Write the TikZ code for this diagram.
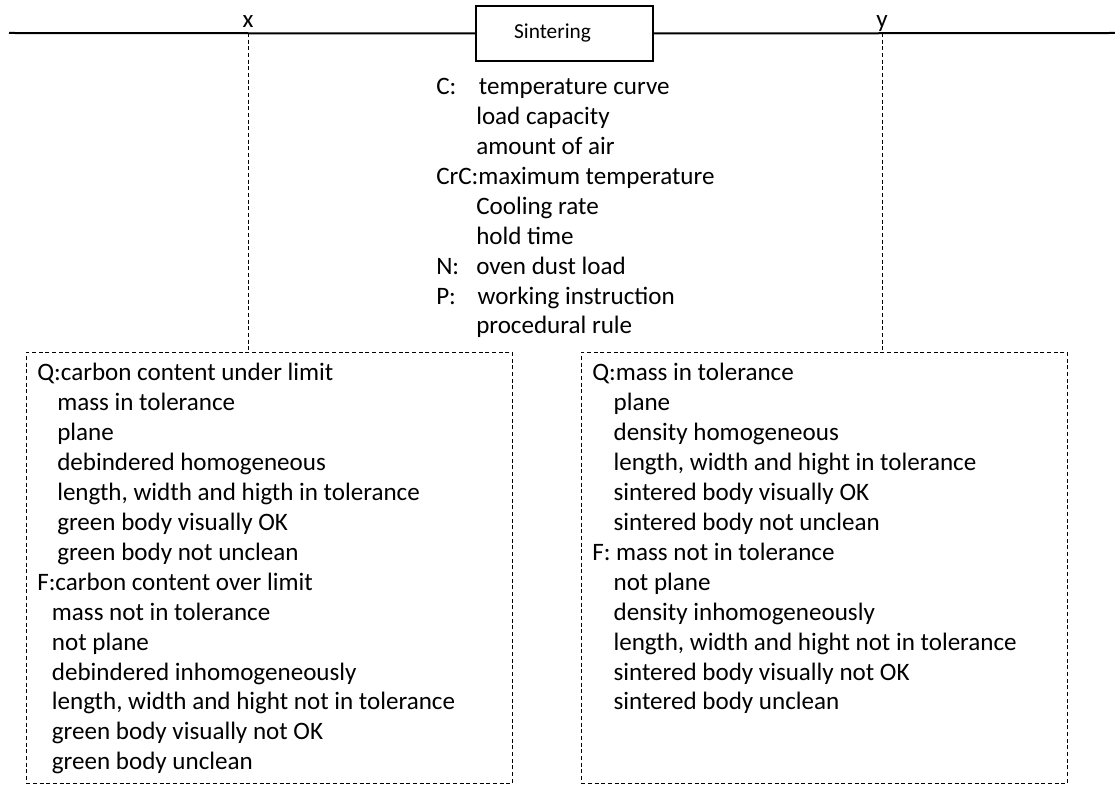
\documentclass[tikz,border=0pt]{standalone}
\usepackage{fontspec}
\setmainfont{Carlito}
\usetikzlibrary{positioning,calc}
\def\chartfont{\fontsize{18.8}{22.45}\selectfont}
\def\boxwid{364.5pt}
\def\boxhgt{323.25pt}
\def\qindent{15pt}

\begin{document}
\begin{tikzpicture}[
            x=0.75pt, y=-0.75pt,
            processbox/.style={%
                line width=1.5pt, rectangle, draw=black, fill=white,%
                minimum width=132.75pt, minimum height=41.25pt,%
                inner sep=0pt, font=\fontsize{16}{19}\selectfont%
            },
            checkbox/.style={%
                thin, rectangle, draw=black, dash pattern=on 3pt off 2pt,%
                minimum width=\boxwid, minimum height=\boxhgt, inner sep=0pt%
            },
            listtext/.style={%
                align=left, inner sep=0pt, font=\chartfont%
            },
            mainline/.style={line width=1.5pt},
            link/.style={thin, dash pattern=on 3pt off 2pt}
        ]

        \useasboundingbox (0,0) rectangle (1115,787);

        % Define nodes
        \node (sinter) [processbox] at (564.5,33.5) {Sintering\hspace*{18pt}};

        \coordinate (lineL) at (9,33);
        \coordinate (lineR) at (1115,33);
        \coordinate (xtap) at (248,33);
        \coordinate (ytap) at (882,33);

        \node (xlab) [anchor=base, inner sep=0pt, font=\chartfont] at (248,28) {x};
        \node (ylab) [anchor=base, inner sep=0pt, font=\chartfont] at (882,28) {y};

        \node (params) [listtext, anchor=north west] at (436,78) {%
            \makebox[32pt][l]{C:}temperature curve\\
            \hspace*{30pt}load capacity\\
            \hspace*{30pt}amount of air\\
            CrC:maximum temperature\\
            \hspace*{30pt}Cooling rate\\
            \hspace*{30pt}hold time\\
            \makebox[30pt][l]{N:}oven dust load\\
            \makebox[31pt][l]{P:}working instruction\\
            \hspace*{30pt}procedural rule
        };

        \node (inbox) [checkbox, anchor=north west] at (26,352) {};
        \node (outbox) [checkbox, anchor=north west] at (581,352) {};

        \node (inlist) [listtext, below right=8.25pt and 8.25pt of inbox.north west] {%
            Q:carbon content under limit\\
            \hspace*{\qindent}mass in tolerance\\
            \hspace*{\qindent}plane\\
            \hspace*{\qindent}debindered homogeneous\\
            \hspace*{\qindent}length, width and higth in tolerance\\
            \hspace*{\qindent}green body visually OK\\
            \hspace*{\qindent}green body not unclean\\
            F:carbon content over limit\\
            \hspace*{11pt}mass not in tolerance\\
            \hspace*{11pt}not plane\\
            \hspace*{11pt}debindered inhomogeneously\\
            \hspace*{11pt}length, width and hight not in tolerance\\
            \hspace*{11pt}green body visually not OK\\
            \hspace*{11pt}green body unclean
        };

        \node (outlist) [listtext, below right=8.25pt and 8.25pt of outbox.north west] {%
            Q:mass in tolerance\\
            \hspace*{16pt}plane\\
            \hspace*{16pt}density homogeneous\\
            \hspace*{16pt}length, width and hight in tolerance\\
            \hspace*{16pt}sintered body visually OK\\
            \hspace*{16pt}sintered body not unclean\\
            F: mass not in tolerance\\
            \hspace*{16pt}not plane\\
            \hspace*{16pt}density inhomogeneously\\
            \hspace*{16pt}length, width and hight not in tolerance\\
            \hspace*{16pt}sintered body visually not OK\\
            \hspace*{16pt}sintered body unclean
        };

        \draw [mainline] (lineL) -- (sinter.west);
        \draw [mainline] (sinter.east) -- (lineR);
        \draw [link] (xtap) -- (xtap |- inbox.north);
        \draw [link] (ytap) -- (ytap |- outbox.north);

        \end{tikzpicture}
\end{document}
